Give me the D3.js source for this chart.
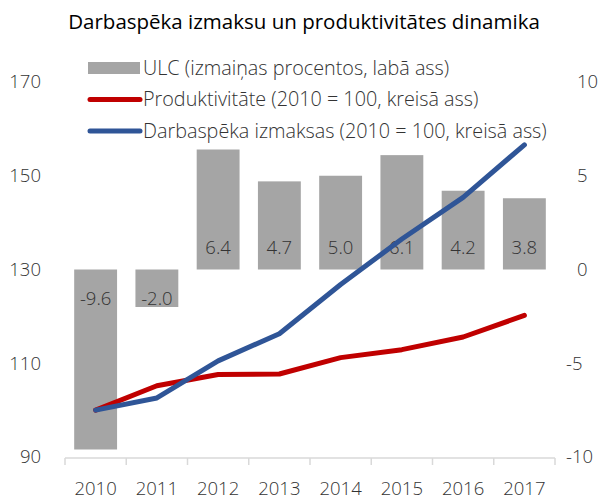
<!DOCTYPE html>
<html>
<head>
<meta charset="utf-8">
<script src="https://cdn.jsdelivr.net/npm/d3@7"></script>
<style>
body { margin: 0; background: #fff; }
svg text { font-family: "Open Sans", sans-serif; font-weight: 300; }
svg text.title { font-weight: 400; }
</style>
</head>
<body>
<svg width="609" height="495"></svg>
<script>
var years = ["2010", "2011", "2012", "2013", "2014", "2015", "2016", "2017"];
var ulc = [-9.6, -2.0, 6.4, 4.7, 5.0, 6.1, 4.2, 3.8];
var productivity = [100, 105.2, 107.6, 107.7, 111.2, 112.9, 115.6, 120.2];
var labourCost = [100, 102.6, 110.5, 116.3, 126.8, 136.5, 145.4, 156.6];
var leftTicks = [90, 110, 130, 150, 170];
var rightTicks = [-10, -5, 0, 5, 10];
var legendItems = [
    { label: "ULC (izmaiņas procentos, labā ass)", type: "bar", color: "#a5a5a5" },
    { label: "Produktivitāte (2010 = 100, kreisā ass)", type: "line", color: "#c00000" },
    { label: "Darbaspēka izmaksas (2010 = 100, kreisā ass)", type: "line", color: "#2f5597" }
];

var svg = d3.select("svg"),
    plotLeft = 65, plotRight = 555, plotTop = 82, plotBottom = 457,
    textColor = "#333";

var x = d3.scaleBand().domain(years).range([plotLeft, plotRight]).paddingInner(0.3).paddingOuter(0.15);
var yL = d3.scaleLinear().domain([90, 170]).range([plotBottom, plotTop]);
var yR = d3.scaleLinear().domain([-10, 10]).range([plotBottom, plotTop]);
var cx = function(d, i) { return x(years[i]) + x.bandwidth() / 2; };

// title
svg.append("text")
    .attr("class", "title")
    .attr("x", 304).attr("y", 29)
    .attr("text-anchor", "middle")
    .style("font-size", "20.5px")
    .style("fill", "#000")
    .text("Darbaspēka izmaksu un produktivitātes dinamika");

// left axis
var gl = svg.append("g").attr("transform", "translate(41,0)")
    .call(d3.axisLeft(yL).tickValues(leftTicks).tickSize(0).tickPadding(0));
gl.select(".domain").remove();
gl.selectAll("text").style("font-size", "18.5px").style("fill", textColor).style("font-family", "Open Sans");

// right axis
var gr = svg.append("g").attr("transform", "translate(577,0)")
    .call(d3.axisRight(yR).tickValues(rightTicks).tickSize(0).tickPadding(0)
        .tickFormat(function(d) { return d; }));
gr.select(".domain").remove();
gr.selectAll("text").style("font-size", "18.5px").style("fill", textColor).style("font-family", "Open Sans");
gr.selectAll("text").attr("x", function(d) { return d < 0 ? -11 : 0; });

// bars
svg.append("g").selectAll("rect")
    .data(ulc)
    .enter().append("rect")
    .attr("x", function(d, i) { return x(years[i]); })
    .attr("y", function(d) { return yR(Math.max(0, d)); })
    .attr("width", x.bandwidth())
    .attr("height", function(d) { return Math.abs(yR(d) - yR(0)); })
    .attr("fill", "#a5a5a5");

svg.append("g").selectAll("text")
    .data(ulc)
    .enter().append("text")
    .attr("x", cx)
    .attr("y", function(d) { return d >= 0 ? yR(0) - 22 : yR(0) + 29; })
    .attr("dy", "0.35em")
    .attr("text-anchor", "middle")
    .style("font-size", "18.5px")
    .style("fill", textColor)
    .text(function(d) { return d.toFixed(1); });

// x axis
svg.append("line")
    .attr("x1", plotLeft).attr("x2", plotRight)
    .attr("y1", plotBottom + 1).attr("y2", plotBottom + 1)
    .attr("stroke", "#d9d9d9").attr("stroke-width", 1.5);
var edges = years.map(function(d) { return x(d) - x.step() * x.paddingInner() / 2; });
edges.push(plotRight);
svg.append("g").selectAll("line")
    .data(edges)
    .enter().append("line")
    .attr("x1", function(d) { return d; }).attr("x2", function(d) { return d; })
    .attr("y1", plotBottom + 1).attr("y2", plotBottom + 8)
    .attr("stroke", "#d9d9d9").attr("stroke-width", 1.5);

var gx = svg.append("g").attr("transform", "translate(0," + (plotBottom + 25) + ")")
    .call(d3.axisBottom(x).tickSize(0).tickPadding(0));
gx.select(".domain").remove();
gx.selectAll("text").attr("dy", "0.71em").style("font-size", "18.5px").style("fill", textColor).style("font-family", "Open Sans");

// lines
var line = d3.line().x(cx).y(function(d) { return yL(d); });

svg.append("path")
    .datum(productivity)
    .attr("d", line)
    .attr("fill", "none")
    .attr("stroke", "#c00000")
    .attr("stroke-width", 5)
    .attr("stroke-linecap", "round")
    .attr("stroke-linejoin", "round");

svg.append("path")
    .datum(labourCost)
    .attr("d", line)
    .attr("fill", "none")
    .attr("stroke", "#2f5597")
    .attr("stroke-width", 5)
    .attr("stroke-linecap", "round")
    .attr("stroke-linejoin", "round");

// legend
var lg = svg.append("g").selectAll("g")
    .data(legendItems)
    .enter().append("g")
    .attr("transform", function(d, i) { return "translate(88," + (68 + i * 31.5) + ")"; });

lg.filter(function(d) { return d.type === "bar"; }).append("rect")
    .attr("x", 0).attr("y", -6).attr("width", 52).attr("height", 12)
    .attr("fill", function(d) { return d.color; });
lg.filter(function(d) { return d.type === "line"; }).append("line")
    .attr("x1", 2).attr("x2", 52).attr("y1", 0).attr("y2", 0)
    .attr("stroke", function(d) { return d.color; })
    .attr("stroke-width", 5)
    .attr("stroke-linecap", "round");
lg.append("text")
    .attr("x", 55).attr("dy", "0.35em")
    .style("font-size", "19.8px")
    .style("fill", textColor)
    .text(function(d) { return d.label; });
</script>
</body>
</html>
